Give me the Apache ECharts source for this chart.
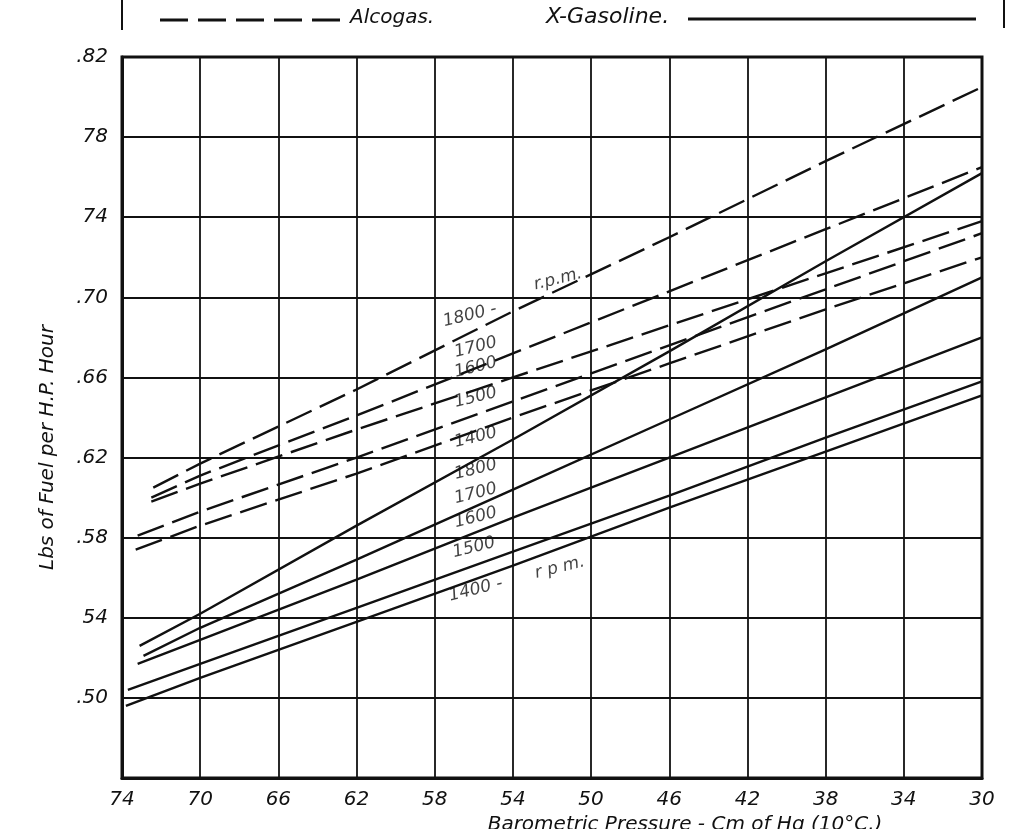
<!DOCTYPE html>
<html>
<head>
<meta charset="utf-8">
<script src="https://cdn.jsdelivr.net/npm/echarts@6/dist/echarts.min.js"></script>
<style>
  html, body { margin: 0; padding: 0; background: #ffffff; }
  #chart { width: 1024px; height: 829px; }
</style>
</head>
<body>
<div id="chart"></div>
<script>
// values: [barometric pressure (cm Hg), lbs fuel per hp-hr]
const rpmLabels = ["1800", "1700", "1600", "1500", "1400"];

const alcogas1800 = [[72.4, 0.605], [70, 0.617], [62, 0.654], [54, 0.693], [46, 0.730], [38, 0.768], [30, 0.805]];
const alcogas1700 = [[72.5, 0.600], [70, 0.611], [62, 0.641], [54, 0.672], [46, 0.703], [38, 0.734], [30, 0.765]];
const alcogas1600 = [[72.5, 0.598], [70, 0.607], [62, 0.634], [54, 0.660], [46, 0.686], [38, 0.712], [30, 0.738]];
const alcogas1500 = [[73.2, 0.581], [70, 0.593], [62, 0.620], [54, 0.648], [46, 0.676], [38, 0.704], [30, 0.732]];
const alcogas1400 = [[73.3, 0.574], [70, 0.586], [62, 0.612], [54, 0.640], [46, 0.667], [38, 0.694], [30, 0.720]];

const gasoline1800 = [[73.1, 0.526], [70, 0.542], [62, 0.586], [54, 0.629], [46, 0.673], [38, 0.718], [30, 0.762]];
const gasoline1700 = [[72.9, 0.521], [70, 0.535], [62, 0.569], [54, 0.604], [46, 0.639], [38, 0.674], [30, 0.710]];
const gasoline1600 = [[73.2, 0.517], [70, 0.529], [62, 0.559], [54, 0.590], [46, 0.620], [38, 0.650], [30, 0.680]];
const gasoline1500 = [[73.7, 0.504], [70, 0.517], [62, 0.545], [54, 0.573], [46, 0.601], [38, 0.630], [30, 0.658]];
const gasoline1400 = [[73.8, 0.496], [70, 0.510], [62, 0.538], [54, 0.566], [46, 0.595], [38, 0.623], [30, 0.651]];

const alcogasSeries = [alcogas1800, alcogas1700, alcogas1600, alcogas1500, alcogas1400];
const gasolineSeries = [gasoline1800, gasoline1700, gasoline1600, gasoline1500, gasoline1400];

// tick labels as lettered on the original (hundredths -> text)
const yTickValues = [50, 54, 58, 62, 66, 70, 74, 78, 82];
const yTickLabels = [".50", "54", ".58", ".62", ".66", ".70", "74", "78", ".82"];

const INK = "#111111";
const FONT = "DejaVu Sans, sans-serif";

function lineSeries(name, data, dashed) {
  return {
    type: "line",
    name,
    data,
    showSymbol: false,
    silent: true,
    lineStyle: {
      color: INK,
      width: 2.4,
      type: dashed ? [28, 9] : "solid",
    },
    z: 3,
  };
}

function notesSeries() {
  // hand-lettered rpm annotations, anchored in chart coordinates
  const notes = [
    [56.2, 0.691, rpmLabels[0] + " -"],
    [55.9, 0.675, rpmLabels[1]],
    [55.9, 0.665, rpmLabels[2]],
    [55.9, 0.650, rpmLabels[3]],
    [55.9, 0.630, rpmLabels[4]],
    [51.7, 0.709, "r.p.m."],
    [55.9, 0.614, rpmLabels[0]],
    [55.9, 0.602, rpmLabels[1]],
    [55.9, 0.590, rpmLabels[2]],
    [56.0, 0.575, rpmLabels[3]],
    [55.9, 0.554, rpmLabels[4] + " -"],
    [51.6, 0.565, "r p m."],
  ];
  return {
    type: "scatter",
    data: notes,
    symbolSize: 0,
    silent: true,
    label: {
      show: true,
      position: "inside",
      formatter: (p) => p.value[2],
      rotate: 14,
      color: INK,
      fontFamily: FONT,
      fontStyle: "italic",
      fontSize: 17,
    },
    z: 5,
  };
}

function legendGraphic() {
  return [
    { type: "line", shape: { x1: 122, y1: 0, x2: 122, y2: 30 }, style: { stroke: INK, lineWidth: 2 } },
    { type: "line", shape: { x1: 1004, y1: 0, x2: 1004, y2: 28 }, style: { stroke: INK, lineWidth: 2 } },
    { type: "line", shape: { x1: 160, y1: 20, x2: 350, y2: 20 }, style: { stroke: INK, lineWidth: 3, lineDash: [28, 10] } },
    {
      type: "text",
      left: 350,
      top: 8,
      style: { text: "Alcogas.", fill: INK, font: "italic 20px " + FONT },
    },
    {
      type: "text",
      left: 546,
      top: 6,
      style: { text: "X-Gasoline.", fill: INK, font: "italic 22px " + FONT },
    },
    { type: "line", shape: { x1: 688, y1: 19, x2: 976, y2: 19 }, style: { stroke: INK, lineWidth: 3 } },
  ];
}

function buildOption() {
  const series = [];
  alcogasSeries.forEach((data, i) => series.push(lineSeries("Alcogas " + rpmLabels[i], data, true)));
  gasolineSeries.forEach((data, i) => series.push(lineSeries("X-Gasoline " + rpmLabels[i], data, false)));
  series.push(notesSeries());

  return {
    animation: false,
    backgroundColor: "#ffffff",
    textStyle: { fontFamily: FONT },
    grid: {
      left: 122,
      right: 42,
      top: 57,
      bottom: 51,
      outerBoundsMode: "none",
      containLabel: false,
      show: true,
      borderColor: INK,
      borderWidth: 3,
    },
    xAxis: {
      type: "value",
      inverse: true,
      min: 30,
      max: 74,
      interval: 4,
      name: "Barometric Pressure - Cm of Hg (10°C.)",
      nameLocation: "middle",
      nameGap: 36,
      nameTextStyle: {
        color: INK,
        fontSize: 20,
        fontStyle: "italic",
        fontFamily: FONT,
        padding: [0, 0, 0, 266],
      },
      axisLine: { show: true, lineStyle: { color: INK, width: 3 } },
      axisTick: { show: false },
      axisLabel: {
        margin: 12,
        color: INK,
        fontSize: 20,
        fontStyle: "italic",
        fontFamily: FONT,
      },
      splitLine: { show: true, lineStyle: { color: INK, width: 1.8 } },
    },
    yAxis: {
      type: "value",
      min: 0.46,
      max: 0.82,
      interval: 0.04,
      name: "Lbs of Fuel per H.P. Hour",
      nameLocation: "middle",
      nameGap: 64,
      nameTextStyle: {
        color: INK,
        fontSize: 20,
        fontStyle: "italic",
        fontFamily: FONT,
        padding: [0, 60, 0, 0],
      },
      axisLine: { show: true, lineStyle: { color: INK, width: 3 } },
      axisTick: { show: false },
      axisLabel: {
        margin: 14,
        color: INK,
        fontSize: 20,
        fontStyle: "italic",
        fontFamily: FONT,
        formatter: (v) => {
          const idx = yTickValues.indexOf(Math.round(v * 100));
          return idx >= 0 ? yTickLabels[idx] : "";
        },
      },
      splitLine: { show: true, lineStyle: { color: INK, width: 2 } },
    },
    graphic: legendGraphic(),
    series,
  };
}

const chart = echarts.init(document.getElementById("chart"));
chart.setOption(buildOption());
</script>
</body>
</html>
